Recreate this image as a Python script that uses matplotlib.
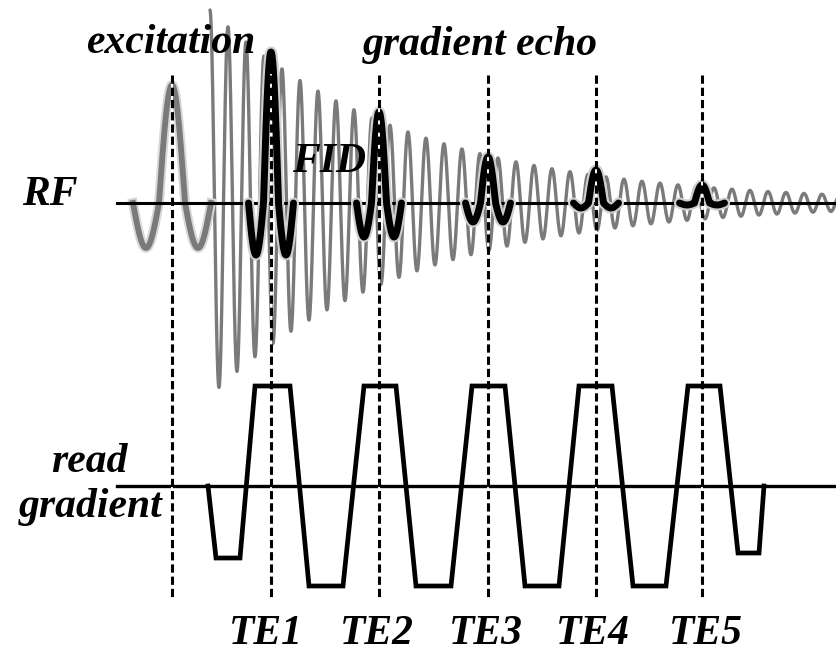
import numpy as np
import matplotlib
matplotlib.use("Agg")
import matplotlib.pyplot as plt
import matplotlib.patheffects as pe

# ---------------- data (time axis in drawing units, amplitudes in drawing units) -------------
marker_times = [172, 271, 379, 488, 596, 702]          # excitation + TE1..TE5
te_labels = ["TE1", "TE2", "TE3", "TE4", "TE5"]
te_label_x = [266, 377, 486, 593, 706]

# excitation pulse (sinc-like): centre, period, peak / side-lobe amplitudes
exc_center = 172
exc_period = 52
exc_peak = 118
exc_trough = 45

# free induction decay
fid_start = 210
fid_end = 837
fid_amp0 = 193
fid_decay = 198
fid_period = 18

# gradient echoes at each TE
echo_peak = [151, 91, 46, 33, 18]
echo_trough = [52, 34, 19, 5, 2]
echo_period = 30

# read gradient waveform (time, amplitude)
grad_t = [208, 216, 240, 255, 290, 309, 343, 364, 396, 416, 451, 472, 505,
          525, 559, 579, 612, 633, 666, 688, 720, 738, 759, 764]
grad_a = [0, -0.72, -0.72, 1, 1, -1, -1, 1, 1, -1, -1, 1, 1,
          -1, -1, 1, 1, -1, -1, 1, 1, -0.67, -0.67, 0]

# ---------------- layout -------------
W, H = 837, 654
rf_base = 203
grad_base = 486
grad_scale = 100
line_start = 117

fig = plt.figure(figsize=(W / 100, H / 100), dpi=100)
ax = fig.add_axes([0, 0, 1, 1])
ax.set_xlim(0, W)
ax.set_ylim(H, 0)
ax.axis("off")

gray = "#7a7a7a"
font = dict(family="Liberation Serif", weight="bold", style="italic", size=30)

def lobed(t, center, period, peak, trough):
    d = t - center
    w = np.cos(2 * np.pi * d / period)
    return np.where(w > 0, peak * w, trough * w)

# FID
t = np.linspace(fid_start, fid_end, 4000)
fid = fid_amp0 * np.exp(-(t - fid_start) / fid_decay) * np.cos(2 * np.pi * (t - fid_start) / fid_period)
ax.plot(t, rf_base - fid, color=gray, lw=2.4, solid_capstyle="round", zorder=2)

# excitation pulse
half = 0.75 * exc_period
te = np.linspace(exc_center - half, exc_center + half, 400)
ax.plot(te, rf_base - lobed(te, exc_center, exc_period, exc_peak, exc_trough),
        color=gray, lw=4.2, zorder=3,
        path_effects=[pe.Stroke(linewidth=7, foreground="#d8d8d8"), pe.Normal()])

# RF baseline
ax.plot([line_start, W], [rf_base, rf_base], color="black", lw=2.2, zorder=4)

# echoes
for c, pk, tr in zip(marker_times[1:], echo_peak, echo_trough):
    half = 0.75 * echo_period
    tt = np.linspace(c - half, c + half, 300)
    ax.plot(tt, rf_base - lobed(tt, c, echo_period, pk, tr), color="black", lw=5,
            solid_capstyle="round", zorder=5,
            path_effects=[pe.Stroke(linewidth=8, foreground="#cfcfcf"), pe.Normal()])

# read gradient
ax.plot([line_start, W], [grad_base, grad_base], color="black", lw=2.4, zorder=4)
ax.plot(grad_t, [grad_base - a * grad_scale for a in grad_a], color="black", lw=3.4,
        solid_joinstyle="miter", zorder=5)

# dashed markers
for x in marker_times:
    ax.plot([x, x], [75, 597], color="white", lw=1.4, zorder=6)
    ax.plot([x, x], [75, 597], color="black", lw=2.2, linestyle=(0, (2.7, 1.3)), zorder=7)

# texts
ax.text(86, 53, "excitation", ha="left", va="baseline", zorder=8, **font)
ax.text(363, 55, "gradient echo", ha="left", va="baseline", zorder=8, **font)
ax.text(22, 205, "RF", ha="left", va="baseline", zorder=8, **font)
ax.text(292, 172, "FID", ha="left", va="baseline", zorder=8, **font)
ax.text(128, 472, "read", ha="right", va="baseline", zorder=8, **font)
ax.text(163, 517, "gradient", ha="right", va="baseline", zorder=8, **font)
for x, lab in zip(te_label_x, te_labels):
    ax.text(x, 644, lab, ha="center", va="baseline", zorder=8, **font)

fig.savefig("out.png", dpi=100)
